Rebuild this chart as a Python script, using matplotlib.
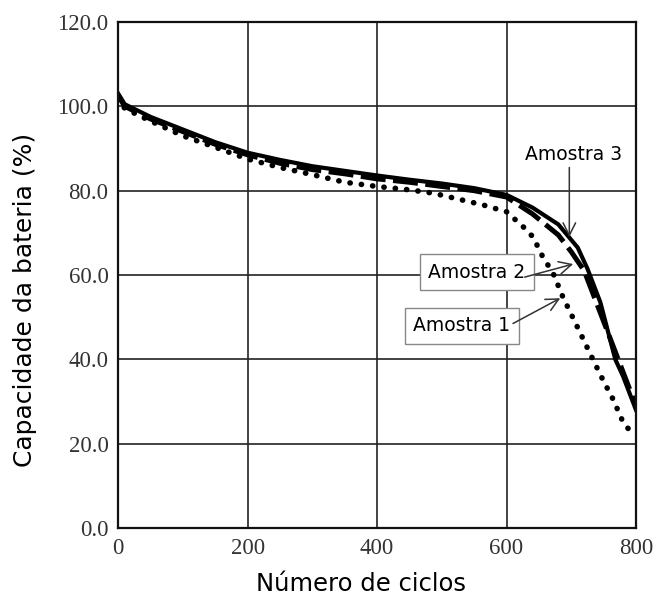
import matplotlib
matplotlib.use("Agg")
import matplotlib.pyplot as plt

# Data
ciclos_a3 = [0, 10, 50, 100, 150, 200, 250, 300, 350, 400, 450, 500, 550, 600, 640, 680, 710, 725, 745, 768, 780, 800]
amostra3 = [103, 100.5, 97.5, 94.5, 91.5, 89, 87.3, 85.8, 84.7, 83.6, 82.6, 81.7, 80.6, 79, 76, 72, 66.5, 61.5, 53.5, 40, 36, 28]

ciclos_a2 = [0, 10, 50, 100, 150, 200, 250, 300, 350, 400, 450, 500, 550, 600, 640, 680, 700, 720, 740, 760, 780, 800]
amostra2 = [102.5, 100, 97, 94, 91, 88.5, 86.5, 85, 84, 82.8, 82, 81, 80, 78.5, 74.5, 69.5, 65.5, 61, 53, 45, 37, 29]

ciclos_a1 = [0, 10, 50, 100, 150, 200, 250, 300, 350, 400, 450, 487, 564, 600, 626, 641, 656, 672, 687, 710, 734, 749, 765, 780, 792]
amostra1 = [102, 99.5, 96.5, 93, 90.3, 87.5, 85.5, 83.8, 82, 81, 80.2, 79.4, 76.6, 75, 71.4, 69, 64.3, 60.4, 54.8, 47.5, 39.8, 35.1, 30.4, 25.1, 22.8]

x_ticks = [0, 200, 400, 600, 800]
y_ticks = [0, 20, 40, 60, 80, 100, 120]

fig = plt.figure(figsize=(6.57, 5.97), dpi=100)
ax = fig.add_axes([0.180, 0.1156, 0.788, 0.8475])

ax.plot(ciclos_a1, amostra1, color="black", lw=4.0, linestyle=(0, (0.05, 2.0)),
        dash_capstyle="round", solid_capstyle="round")
ax.plot(ciclos_a2, amostra2, color="black", lw=3.6, linestyle=(0, (5, 1.5)))
ax.plot(ciclos_a3, amostra3, color="black", lw=3.0)

ax.set_xlim(0, 800)
ax.set_ylim(0, 120)
ax.set_xticks(x_ticks)
ax.set_yticks(y_ticks)
ax.set_xticklabels([str(v) for v in x_ticks])
ax.set_yticklabels([f"{v:.1f}" for v in y_ticks])
ax.tick_params(length=0, labelsize=16.5, colors="#333333", pad=7)
for lab in ax.get_xticklabels() + ax.get_yticklabels():
    lab.set_fontfamily("Liberation Serif")
ax.grid(True, color="#222222", lw=1.2)
for s in ax.spines.values():
    s.set_linewidth(1.6)
    s.set_color("#111111")

ax.set_xlabel("Número de ciclos", fontsize=17.5, family="DejaVu Sans")
ax.set_ylabel("Capacidade da bateria (%)", fontsize=18, family="DejaVu Sans")
ax.xaxis.label.set_va("center")
ax.yaxis.label.set_va("center")
ax.xaxis.set_label_coords(0.469, -0.111)
ax.yaxis.set_label_coords(-0.18, 0.45)

arrow = dict(arrowstyle="->, head_length=0.9, head_width=0.45", color="#333333", lw=1.1,
             shrinkA=0, shrinkB=0)
box = dict(boxstyle="square, pad=0.45", fc="white", ec="#888888", lw=1.0)

ax.text(703, 88.5, "Amostra 3", fontsize=13.5, ha="center", va="center", zorder=5)
ax.text(554, 60.7, "Amostra 2", fontsize=13.5, ha="center", va="center", bbox=box, zorder=5)
ax.text(531, 48, "Amostra 1", fontsize=13.5, ha="center", va="center", bbox=box, zorder=5)

ax.annotate("", xy=(697, 69), xytext=(697, 85.5), arrowprops=arrow, zorder=6)
ax.annotate("", xy=(703, 62.6), xytext=(628, 59.5), arrowprops=arrow, zorder=6)
ax.annotate("", xy=(683, 54.5), xytext=(610, 48.5), arrowprops=arrow, zorder=6)

fig.savefig("out.png", dpi=100)
